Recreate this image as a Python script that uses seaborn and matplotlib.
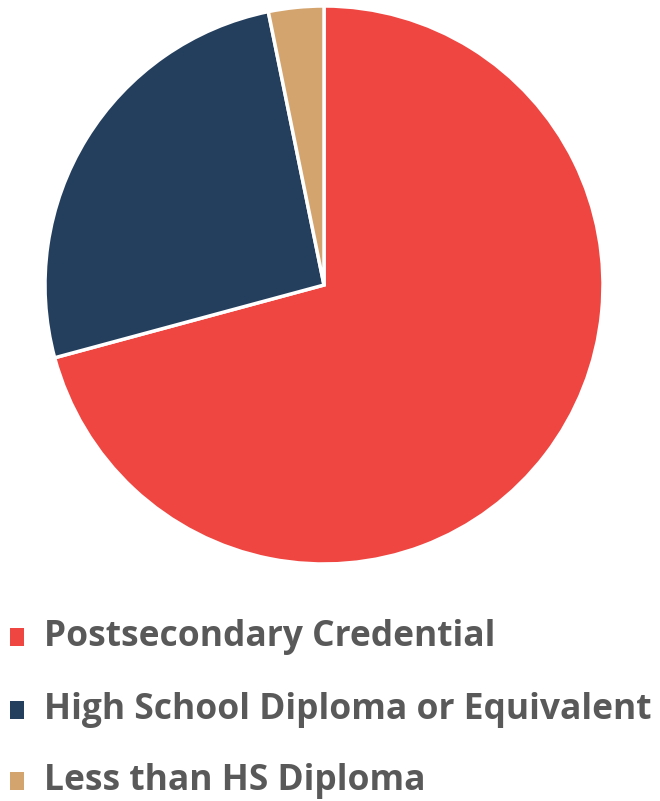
import matplotlib
matplotlib.use("Agg")
import matplotlib.pyplot as plt
import seaborn as sns
from matplotlib.patches import Rectangle

sns.set_theme(style="white")
plt.rcParams["font.family"] = ["Open Sans", "DejaVu Sans"]

# Educational attainment shares (percent)
categories = ["Postsecondary Credential",
              "High School Diploma or Equivalent",
              "Less than HS Diploma"]
shares = [70.8, 26.0, 3.2]
colors = ["#EF4641", "#243F5E", "#D4A46E"]

W, H = 660, 801
fig = plt.figure(figsize=(W / 100, H / 100), dpi=100)
fig.patch.set_facecolor("white")

# Pie area in pixels: left 45, top 6, diameter 558
ax = fig.add_axes([45 / W, (H - 564) / H, 558 / W, 558 / H])
ax.pie(shares, colors=colors, startangle=90, counterclock=False,
       radius=1.0, wedgeprops=dict(edgecolor="white", linewidth=2.5))
ax.set_xlim(-1.0, 1.0)
ax.set_ylim(-1.0, 1.0)
ax.set_aspect("equal")
ax.axis("off")

# Legend rows: marker square and label, positioned in pixels
row_centers = [637, 710, 781]
for label, color, yc in zip(categories, colors, row_centers):
    fig.patches.append(Rectangle((10 / W, (H - yc - 9) / H), 14 / W, 18 / H,
                                 transform=fig.transFigure, facecolor=color,
                                 edgecolor="none"))
    fig.text(44 / W, (H - yc) / H, label, ha="left", va="center",
             fontsize=25.5, fontweight="bold", color="#595959")

fig.savefig("out.png", dpi=100, facecolor="white")
